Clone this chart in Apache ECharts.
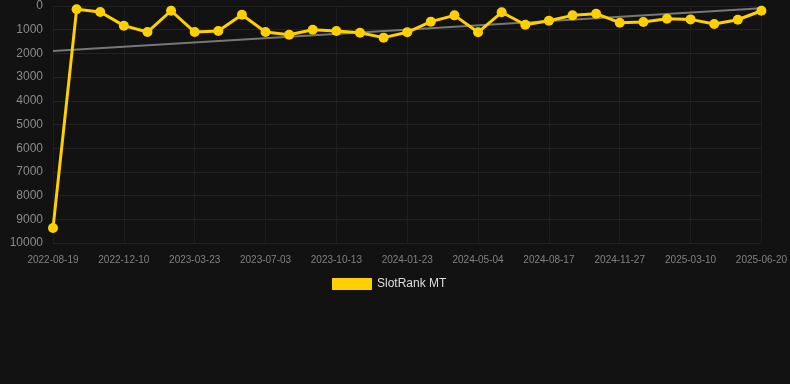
<!DOCTYPE html>
<html>
<head>
<meta charset="utf-8">
<script src="https://cdn.jsdelivr.net/npm/echarts@6/dist/echarts.min.js"></script>
<style>
  html, body { margin: 0; padding: 0; background: #121212; }
  #chart { width: 790px; height: 384px; }
</style>
</head>
<body>
<div id="chart"></div>
<script>
var dates = [
    '2022-08-19', '2022-09-26', '2022-11-03',
    '2022-12-10', '2023-01-13', '2023-02-17',
    '2023-03-23', '2023-04-26', '2023-05-30',
    '2023-07-03', '2023-08-06', '2023-09-09',
    '2023-10-13', '2023-11-16', '2023-12-20',
    '2024-01-23', '2024-02-26', '2024-03-31',
    '2024-05-04', '2024-06-08', '2024-07-13',
    '2024-08-17', '2024-09-20', '2024-10-24',
    '2024-11-27', '2024-12-31', '2025-02-03',
    '2025-03-10', '2025-04-13', '2025-05-17',
    '2025-06-20'
];
var rankValues = [
    9370, 140, 250, 830, 1100, 200, 1100, 1055, 370, 1100,
    1210, 1000, 1055, 1125, 1335, 1110, 660, 395, 1110, 265,
    790, 620, 395, 325, 705, 675, 535, 565, 760, 580,
    200
];
// trend line: only the two ends are known
var trendValues = [1900];
for (var i = 1; i < dates.length - 1; i++) trendValues.push(null);
trendValues.push(100);

var chart = echarts.init(document.getElementById('chart'));
chart.setOption({
    backgroundColor: '#121212',
    animation: false,
    grid: { left: 53, right: 28, top: 6, bottom: 141 },
    legend: {
        top: 273,
        left: 327,
        itemWidth: 40,
        itemHeight: 12,
        data: [{ name: 'SlotRank MT', icon: 'rect' }],
        textStyle: { color: '#dddddd', fontSize: 12, fontFamily: 'Liberation Sans, Arial' }
    },
    xAxis: {
        type: 'category',
        data: dates,
        boundaryGap: false,
        axisLine: { show: false },
        axisTick: { show: false },
        axisLabel: { interval: 2, color: '#808080', fontSize: 10, margin: 12, fontFamily: 'Liberation Sans, Arial' },
        splitLine: { show: true, interval: 2, lineStyle: { color: '#1e1e1e', width: 1 } }
    },
    yAxis: {
        type: 'value',
        inverse: true,
        min: 0,
        max: 10000,
        interval: 1000,
        axisLine: { show: false },
        axisTick: { show: false },
        axisLabel: {
            color: '#8a8a8a', fontSize: 12, margin: 10, fontFamily: 'Liberation Sans, Arial',
            formatter: function (v) { return String(v); }
        },
        splitLine: { lineStyle: { color: '#222222', width: 1 } }
    },
    series: [
        {
            name: 'trend',
            type: 'line',
            data: trendValues,
            connectNulls: true,
            symbol: 'none',
            silent: true,
            lineStyle: { color: '#777777', width: 2 },
            z: 1
        },
        {
            name: 'SlotRank MT',
            type: 'line',
            data: rankValues,
            symbol: 'circle',
            symbolSize: 10,
            itemStyle: { color: '#ffd000' },
            lineStyle: { color: '#ffd000', width: 3 },
            z: 2
        }
    ]
});
</script>
</body>
</html>
